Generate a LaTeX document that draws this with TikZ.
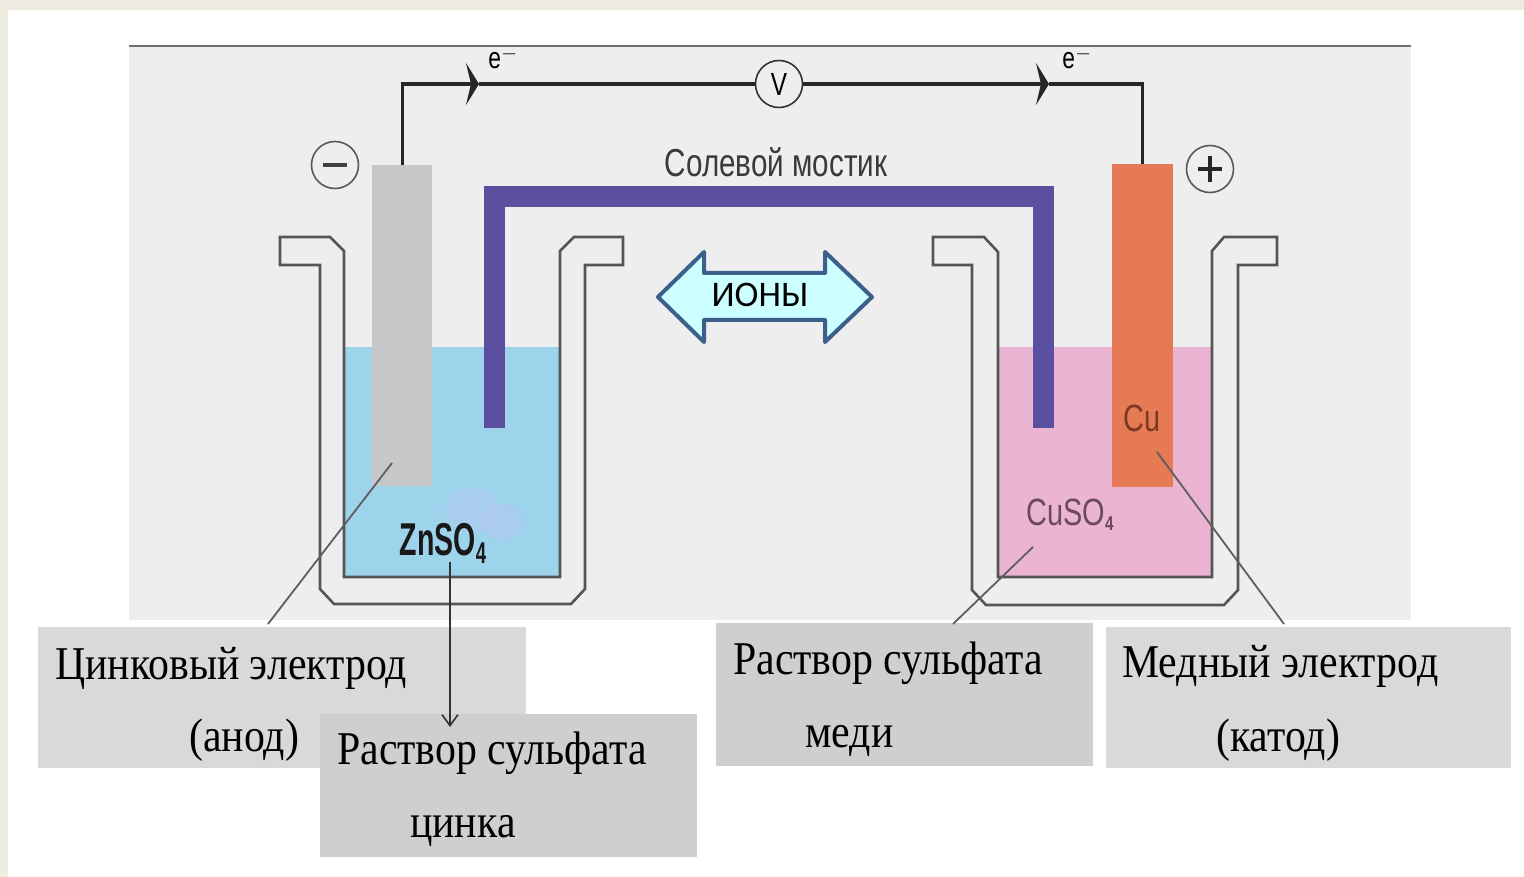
\documentclass[tikz,border=0pt]{standalone}
\usepackage{fontspec}
\setmainfont{Liberation Serif}
\newfontfamily\serifc{Liberation Serif}[FakeStretch=0.89]
\newfontfamily\sansc{Liberation Sans}[FakeStretch=0.76]
\newfontfamily\sanscc{Liberation Sans}[FakeStretch=0.62]
\newfontfamily\ionfont{Carlito}
\usetikzlibrary{arrows.meta}

\definecolor{beige}{HTML}{EEEBE0}
\definecolor{panel}{HTML}{EEEEEE}
\definecolor{panelline}{HTML}{6E6E6E}
\definecolor{zinc}{HTML}{C6C7C9}
\definecolor{copper}{HTML}{E67A55}
\definecolor{bridgecol}{HTML}{5B50A0}
\definecolor{znsol}{HTML}{9DD3EB}
\definecolor{cusol}{HTML}{EAB4D2}
\definecolor{wall}{HTML}{555555}
\definecolor{leadcol}{HTML}{5E5E5E}
\definecolor{boxlight}{HTML}{D9D9D9}
\definecolor{boxdark}{HTML}{CFCFCF}
\definecolor{ionfill}{HTML}{CCFFFF}
\definecolor{ionedge}{HTML}{3C5F8C}
\definecolor{bridgetxt}{HTML}{3A3A3A}
\definecolor{cusotxt}{HTML}{6B4A5E}
\definecolor{cutxt}{HTML}{7B3822}
\definecolor{blob}{HTML}{B9C6F2}

\begin{document}
\begin{tikzpicture}[x=1pt,y=-1pt,
  beaker/.style={draw=wall,line width=2.6pt,line join=miter},
  electrode/.style={rectangle,inner sep=0pt,anchor=north west,minimum width=#1},
  wire/.style={draw=black!85,line width=3.4pt},
  tiparrow/.style={-{Stealth[length=13pt,width=42pt,inset=5pt]}},
  meter/.style={circle,draw=black!80,line width=1.6pt,minimum size=47pt,inner sep=0pt},
  sign/.style={circle,draw=black!65,line width=1.6pt,minimum size=47pt,inner sep=0pt},
  leader/.style={draw=leadcol,line width=1.8pt},
  labelbox/.style={rectangle,inner sep=0pt,anchor=north west},
  lbl/.style={anchor=base west,inner sep=0pt,font=\serifc\fontsize{47}{50}\selectfont},
  chem/.style={inner sep=0pt,font=\sansc\fontsize{38}{40}\selectfont}
]
\useasboundingbox (0,0) rectangle (1524,877);
\fill[white] (0,0) rectangle (1524,877);
\fill[beige] (0,0) rectangle (1524,10);
\fill[beige] (0,0) rectangle (8,877);

% grey drawing panel with its top rule
\fill[panel] (129,46) rectangle (1411,620);
\draw[panelline,line width=2.4pt] (129,46) -- (1411,46);

% solutions
\fill[znsol] (344,347) rectangle (560,577);
\fill[cusol] (998,347) rectangle (1212,577);
\fill[blob,opacity=0.45] (472,510) ellipse (26pt and 22pt);
\fill[blob,opacity=0.4] (502,522) ellipse (22pt and 18pt);

% beakers
\draw[beaker] (344,251) -- (330,237) -- (280,237) -- (280,265) -- (320,265)
  -- (320,589) -- (334,604) -- (571,604) -- (585,589) -- (585,265) -- (623,265)
  -- (623,237) -- (574,237) -- (560,251) -- (560,577) -- (344,577) -- cycle;
\draw[beaker] (998,252) -- (984,237) -- (933,237) -- (933,265) -- (972,265)
  -- (972,590) -- (986,605) -- (1224,605) -- (1238,590) -- (1238,265) -- (1277,265)
  -- (1277,237) -- (1224,237) -- (1212,251) -- (1212,577) -- (998,577) -- cycle;

% salt bridge
\draw[bridgecol,line width=21pt] (494,428) -- (494,197) -- (1043,197) -- (1043,428);
\node[text=bridgetxt,inner sep=0pt,font=\sansc\fontsize{39}{40}\selectfont] (bridgelbl) at (776,162) {Солевой мостик};

% electrodes
\node[electrode=60pt,minimum height=321pt,fill=zinc] (zn) at (372,165) {};
\node[electrode=61pt,minimum height=323pt,fill=copper] (cu) at (1112,164) {};

% external circuit with voltmeter
\node[meter,font=\sansc\fontsize{32}{32}\selectfont] (vm) at (779,84) {V};
\coordinate (arrL) at (479,84);
\coordinate (arrR) at (1049,84);
\draw[wire,tiparrow] (zn.north) |- (arrL);
\draw[wire] (arrL) -- (vm.west);
\draw[wire,tiparrow] (vm.east) -- (arrR);
\draw[wire] (arrR) -| (cu.north);
\node[inner sep=0pt,font=\sansc\fontsize{30}{30}\selectfont] (eL) at (503,58) {e$^{-}$};
\node[inner sep=0pt,font=\sansc\fontsize{30}{30}\selectfont] (eR) at (1077,58) {e$^{-}$};

% polarity signs
\node[sign] (minus) at (335,165) {};
\draw[black!75,line width=4pt] ([xshift=-12pt]minus.center) -- ([xshift=12pt]minus.center);
\node[sign] (plus) at (1210,169) {};
\draw[black!85,line width=3.6pt] ([xshift=-12pt]plus.center) -- ([xshift=12pt]plus.center);
\draw[black!85,line width=3.6pt] ([yshift=-13pt]plus.center) -- ([yshift=13pt]plus.center);

% ion flow arrow
\draw[ionedge,fill=ionfill,line width=4pt,line join=round]
  (658,297) -- (704,252) -- (704,273) -- (825,273) -- (825,252) -- (872,297)
  -- (825,342) -- (825,320) -- (704,320) -- (704,342) -- cycle;
\node[inner sep=0pt,font=\ionfont\fontsize{36}{36}\selectfont] (ions) at (760,295) {ИОНЫ};

% formulas in the cells
\node[chem,font=\sanscc\bfseries\fontsize{46}{46}\selectfont,text=black!90] (znso) at (443,543)
  {ZnSO\raisebox{-8pt}{\fontsize{30}{30}\selectfont 4}};
\node[chem,text=cusotxt] (cuso) at (1070,515)
  {CuSO\raisebox{-5pt}{\fontsize{20}{20}\selectfont\bfseries 4}};
\node[chem,text=cutxt] (culbl) at (1142,418) {Cu};

% label boxes
\node[labelbox,fill=boxlight,minimum width=488pt,minimum height=141pt] (box1) at (38,627) {};
\node[labelbox,fill=boxdark,minimum width=377pt,minimum height=143pt] (box2) at (320,714) {};
\node[labelbox,fill=boxdark,minimum width=377pt,minimum height=143pt] (box3) at (716,623) {};
\node[labelbox,fill=boxlight,minimum width=405pt,minimum height=141pt] (box4) at (1106,627) {};

\node[lbl] (t1a) at (55,679) {Цинковый электрод};
\node[lbl] (t1b) at (189,751) {(анод)};
\node[lbl] (t2a) at (337,764) {Раствор сульфата};
\node[lbl] (t2b) at (410,837) {цинка};
\node[lbl] (t3a) at (733,674) {Раствор сульфата};
\node[lbl] (t3b) at (805,747) {меди};
\node[lbl] (t4a) at (1122,677) {Медный электрод};
\node[lbl] (t4b) at (1216,751) {(катод)};

% leader lines
\coordinate (znpt) at (392,463);
\coordinate (znend) at (268,624);
\coordinate (cusopt) at (1033,547);
\coordinate (cusoend) at (953,624);
\coordinate (cupt) at (1157,452);
\coordinate (cuend) at (1284,624);
\draw[leader] (znpt) -- (znend);
\draw[leader] (cusopt) -- (cusoend);
\draw[leader] (cupt) -- (cuend);
\coordinate (znsoTop) at (450,562);
\coordinate (znsoEnd) at (450,727);
\draw[draw=black!80,line width=1.6pt,-{Straight Barb[length=11pt,width=16pt,line width=1.6pt]}] (znsoTop) -- (znsoEnd);
\end{tikzpicture}
\end{document}
